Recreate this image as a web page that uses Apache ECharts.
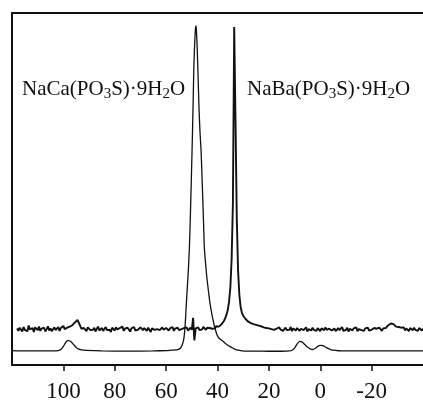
<!DOCTYPE html>
<html>
<head>
<meta charset="utf-8">
<title></title>
<script src="https://cdn.jsdelivr.net/npm/echarts@6/dist/echarts.min.js"></script>
<style>
 html,body{margin:0;padding:0;background:#fff;}
 #container{width:423px;height:403px;}
</style>
</head>
<body>
<div id="container"></div>
<script>
    // tick positions (ppm)
    var ticks = [100, 80, 60, 40, 20, 0, -20];

    // NaCa(PO3S)·9H2O - smooth lower trace, [ppm, intensity]
    var caShift = [120, 115, 110, 105, 102, 101, 100, 99, 98.2, 97, 96, 95, 94, 93, 91, 85, 75, 65, 60, 58, 56, 55, 54.3, 53.8, 53.3, 53, 52.6, 52.3, 52, 51.5, 50.95, 50.5, 49.9, 49.5, 49.2, 48.9, 48.6, 48.4, 48.2, 47.9, 47.6, 47.2, 46.8, 46.4, 46, 45.5, 45.1, 44.6, 44.1, 43.6, 43.2, 42.7, 42.2, 41.7, 41.3, 40.8, 40.2, 39.4, 38.5, 37.5, 36.5, 35.5, 34.5, 33.5, 32.5, 31, 29, 25, 20, 15, 12, 11, 10, 9, 8, 7, 6, 5, 4, 3, 2, 1, 0, -1, -2, -3, -4, -5, -7, -10, -20, -30, -40];
    var caInt = [4.1, 4.0, 4.0, 4.0, 4.1, 4.4, 5.3, 6.5, 7.0, 6.6, 5.8, 5.0, 4.5, 4.3, 4.15, 4.0, 3.95, 4.0, 4.1, 4.2, 4.3, 4.5, 4.9, 5.6, 6.8, 8.0, 11.3, 15, 19, 25, 33, 44, 61, 74, 84.7, 91, 95.3, 96.3, 95, 90, 83, 73, 66, 61, 53, 42, 33, 28.5, 24.5, 21.5, 19, 16.5, 14.5, 12.7, 11.3, 10.0, 8.6, 7.6, 7.1, 6.5, 5.9, 5.4, 5.0, 4.6, 4.3, 4.1, 3.95, 3.95, 3.9, 3.9, 4.0, 4.2, 4.8, 6.0, 6.7, 6.5, 5.8, 5.1, 4.6, 4.4, 4.7, 5.3, 5.6, 5.5, 5.1, 4.7, 4.4, 4.2, 4.05, 4.0, 4.0, 4.0, 4.0];

    // NaBa(PO3S)·9H2O - noisy upper trace, sampled every 0.5 ppm from 118 down to -40
    var baStart = 118;
    var baStep = 0.5;
    var baInt = [
        10.4, 9.7, 10.6, 10.1, 9.5, 10.8, 10.0, 10.3, 9.6, 11.2,
        10.1, 9.8, 10.5, 9.4, 10.7, 10.2, 9.9, 10.9, 9.7, 10.3,
        10.0, 10.6, 9.5, 10.2, 11.0, 9.8, 10.4, 9.6, 10.1, 10.7,
        9.9, 10.3, 10.8, 9.7, 10.5, 10.0, 11.1, 10.2, 9.8, 10.6,
        10.4, 10.9, 10.7, 11.3, 11.6, 12.1, 12.4, 12.8, 12.0, 11.2,
        10.3, 9.8, 10.5, 10.1, 9.6, 10.7, 10.2, 9.9, 10.4, 10.0,
        10.6, 9.5, 10.3, 10.9, 9.8, 10.2, 10.5, 9.7, 10.1, 10.8,
        9.9, 10.4, 10.0, 9.4, 10.6, 10.2, 9.8, 10.7, 10.1, 9.6,
        10.5, 10.0, 10.9, 9.7, 10.3, 9.9, 10.6, 10.2, 9.5, 10.4,
        10.1, 10.8, 9.8, 10.3, 10.0, 9.6, 10.7, 10.2, 9.9, 10.5,
        10.3, 9.7, 10.6, 10.1, 9.4, 10.4, 10.9, 10.0, 9.8, 10.2,
        10.6, 9.9, 10.3, 10.7, 10.0, 9.6, 10.5, 10.2, 9.8, 10.4,
        10.1, 10.8, 9.7, 10.3, 10.0, 10.6, 9.9, 10.4, 10.2, 9.7,
        10.5, 10.1, 10.7, 9.8, 10.3, 10.6, 10.0, 13.4, 7.0, 10.4,
        10.2, 10.7, 9.9, 10.4, 10.1, 10.8, 10.3, 10.0, 10.6, 10.2,
        10.5, 10.9, 10.3, 10.7, 10.4, 11.0, 10.6, 10.9, 11.2, 11.5,
        11.9, 12.5, 13.3, 14.3, 15.6, 18.0, 22.0, 30.0, 46.0, 96.0,
        70.0, 42.0, 27.0, 20.0, 16.5, 14.8, 14.0, 13.6, 13.0, 12.8,
        12.3, 12.6, 11.9, 12.2, 11.6, 12.0, 11.4, 11.8, 11.2, 11.5,
        11.0, 11.4, 10.7, 11.1, 10.5, 11.0, 10.4, 10.8, 10.2, 10.6,
        10.0, 10.5, 10.3, 9.8, 10.7, 10.1, 10.4, 9.7, 10.2, 10.6,
        9.9, 10.3, 10.0, 10.8, 9.6, 10.4, 10.1, 9.8, 10.5, 10.2,
        9.7, 10.3, 10.6, 9.9, 10.1, 10.7, 9.5, 10.2, 10.4, 9.8,
        10.6, 10.0, 10.3, 9.7, 10.5, 10.1, 9.6, 10.4, 10.2, 9.9,
        10.7, 10.0, 9.5, 10.3, 10.6, 9.8, 10.2, 10.4, 9.6, 10.1,
        10.5, 9.9, 10.3, 10.8, 9.7, 10.2, 10.0, 10.6, 9.5, 10.3,
        10.1, 9.8, 10.4, 10.0, 10.7, 9.6, 10.2, 10.5, 9.9, 10.3,
        9.7, 10.4, 10.1, 10.6, 9.8, 10.2, 10.0, 9.5, 10.5, 10.1,
        10.3, 9.9, 10.6, 10.2, 9.7, 10.4, 10.1, 10.5, 10.9, 11.3,
        11.4, 11.8, 12.1, 11.6, 11.2, 10.9, 10.6, 10.8, 10.3, 10.6,
        10.2, 10.7, 9.8, 10.4, 10.1, 9.6, 10.5, 10.2, 9.9, 10.6,
        10.0, 10.3, 9.7, 10.5, 10.1, 9.8, 10.4
    ];

    var caData = [];
    for (let i = 0; i < caShift.length; i++) {
        caData.push([caShift[i], caInt[i]]);
    }
    var baData = [];
    for (let i = 0; i < baInt.length; i++) {
        baData.push([baStart - i * baStep, baInt[i]]);
    }

    var serif = 'Liberation Serif';
    var dom = document.getElementById('container');
    var myChart = echarts.init(dom, null, {renderer: 'canvas'});
    var option = {
        animation: false,
        backgroundColor: '#fff',
        grid: {left: 12, top: 13, bottom: 36, right: -2},
        xAxis: [
            {
                type: 'value',
                inverse: true,
                min: -40, max: 120, interval: 20,
                axisLine: {show: true, onZero: false, lineStyle: {color: '#111', width: 2}},
                axisTick: {show: true, length: 6, customValues: ticks, lineStyle: {color: '#111', width: 1.5}},
                axisLabel: {customValues: ticks, margin: 15, color: '#111', fontFamily: serif, fontSize: 23},
                splitLine: {show: false}
            },
            {
                // top frame line
                type: 'value', position: 'top', inverse: true,
                min: -40, max: 120,
                axisLine: {show: true, onZero: false, lineStyle: {color: '#111', width: 2}},
                axisTick: {show: false}, axisLabel: {show: false}, splitLine: {show: false}
            }
        ],
        yAxis: {
            type: 'value', min: 0, max: 100,
            axisLine: {show: true, onZero: false, lineStyle: {color: '#111', width: 2}},
            axisTick: {show: false}, axisLabel: {show: false}, splitLine: {show: false}
        },
        graphic: [
            {
                type: 'text', left: 22, top: 77,
                style: {
                    text: 'NaCa(PO{s|3}S)·9H{s|2}O',
                    fill: '#111', font: '21px "Liberation Serif"', lineHeight: 25,
                    rich: {s: {fontSize: 15, fontFamily: serif, lineHeight: 15, verticalAlign: 'bottom', fill: '#111'}}
                }
            },
            {
                type: 'text', left: 247, top: 77,
                style: {
                    text: 'NaBa(PO{s|3}S)·9H{s|2}O',
                    fill: '#111', font: '21px "Liberation Serif"', lineHeight: 25,
                    rich: {s: {fontSize: 15, fontFamily: serif, lineHeight: 15, verticalAlign: 'bottom', fill: '#111'}}
                }
            }
        ],
        series: [
            {
                name: 'NaCa', type: 'line', data: caData, showSymbol: false,
                smooth: 0.2, lineStyle: {color: '#111', width: 1.3}
            },
            {
                name: 'NaBa', type: 'line', data: baData, showSymbol: false,
                lineStyle: {color: '#111', width: 1.9}
            }
        ]
    };
    myChart.setOption(option);
    window.addEventListener('resize', myChart.resize);
</script>
</body>
</html>
